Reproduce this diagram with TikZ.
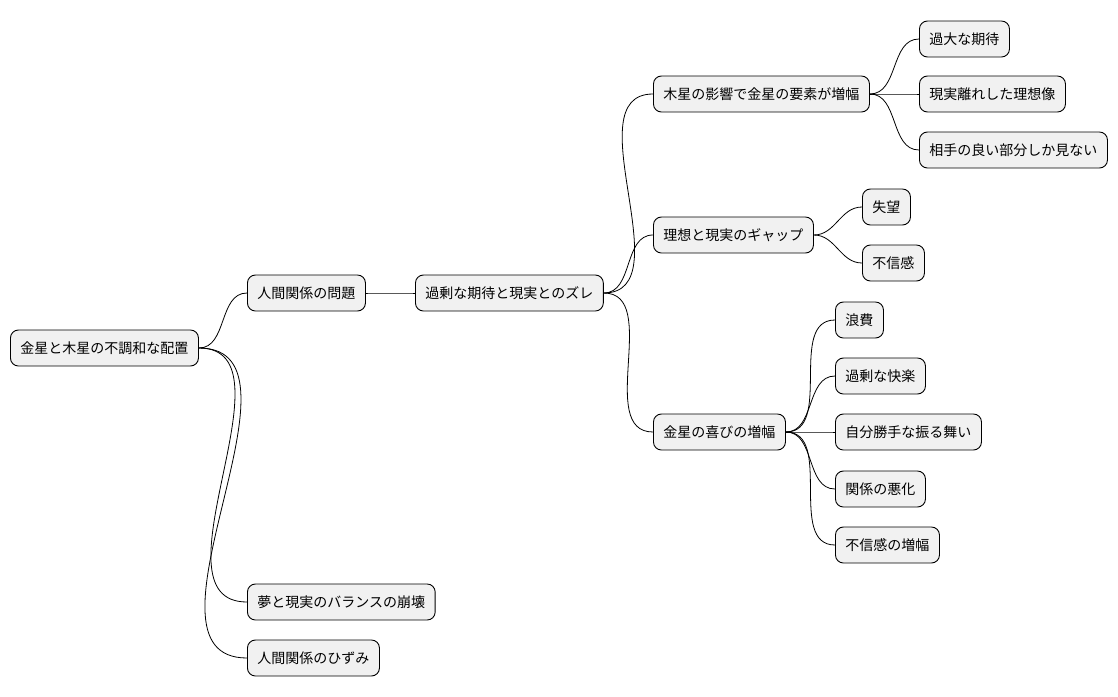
\documentclass[tikz,border=0pt]{standalone}
\usepackage{fontspec}
\newfontfamily\jpfont{Noto Sans CJK JP}
\usetikzlibrary{positioning}
\definecolor{boxgray}{HTML}{F1F1F1}
\tikzset{
  topic/.style={draw=black, fill=boxgray, rounded corners=8pt, anchor=west,
    minimum height=36pt, inner xsep=10pt, line width=0.9pt,
    font=\jpfont\fontsize{14}{16}\selectfont},
  link/.style={draw=black, line width=0.8pt, out=0, in=180}
}
\begin{document}
\begin{tikzpicture}[x=1pt, y=-1pt]
  \useasboundingbox (0,0) rectangle (1118,696);
  % level 0 and 1
  \node[topic] (root) at (10,348) {金星と木星の不調和な配置};
  \node[topic] (rel) at (247,293) {人間関係の問題};
  \node[topic] (dream) at (247,602) {夢と現実のバランスの崩壊};
  \node[topic] (strain) at (247,658) {人間関係のひずみ};
  % level 2 and 3
  \node[topic] (gap) at (415,293) {過剰な期待と現実とのズレ};
  \node[topic] (jup) at (653,94) {木星の影響で金星の要素が増幅};
  \node[topic] (ideal) at (653,235) {理想と現実のギャップ};
  \node[topic] (joy) at (653,432) {金星の喜びの増幅};
  % leaves
  \node[topic] (over) at (919,39) {過大な期待};
  \node[topic] (unreal) at (919,94) {現実離れした理想像};
  \node[topic] (good) at (919,150) {相手の良い部分しか見ない};
  \node[topic] (disap) at (862,207) {失望};
  \node[topic] (distr) at (862,263) {不信感};
  \node[topic] (waste) at (835,320) {浪費};
  \node[topic] (pleas) at (835,376) {過剰な快楽};
  \node[topic] (selfish) at (835,432) {自分勝手な振る舞い};
  \node[topic] (worse) at (835,489) {関係の悪化};
  \node[topic] (grow) at (835,545) {不信感の増幅};
  % connectors
  \foreach \a/\b in {root/rel, root/dream, root/strain, rel/gap,
      gap/jup, gap/ideal, gap/joy, jup/over, jup/unreal, jup/good,
      ideal/disap, ideal/distr, joy/waste, joy/pleas, joy/selfish,
      joy/worse, joy/grow}
    \draw[link] (\a.east) to (\b.west);
\end{tikzpicture}
\end{document}
